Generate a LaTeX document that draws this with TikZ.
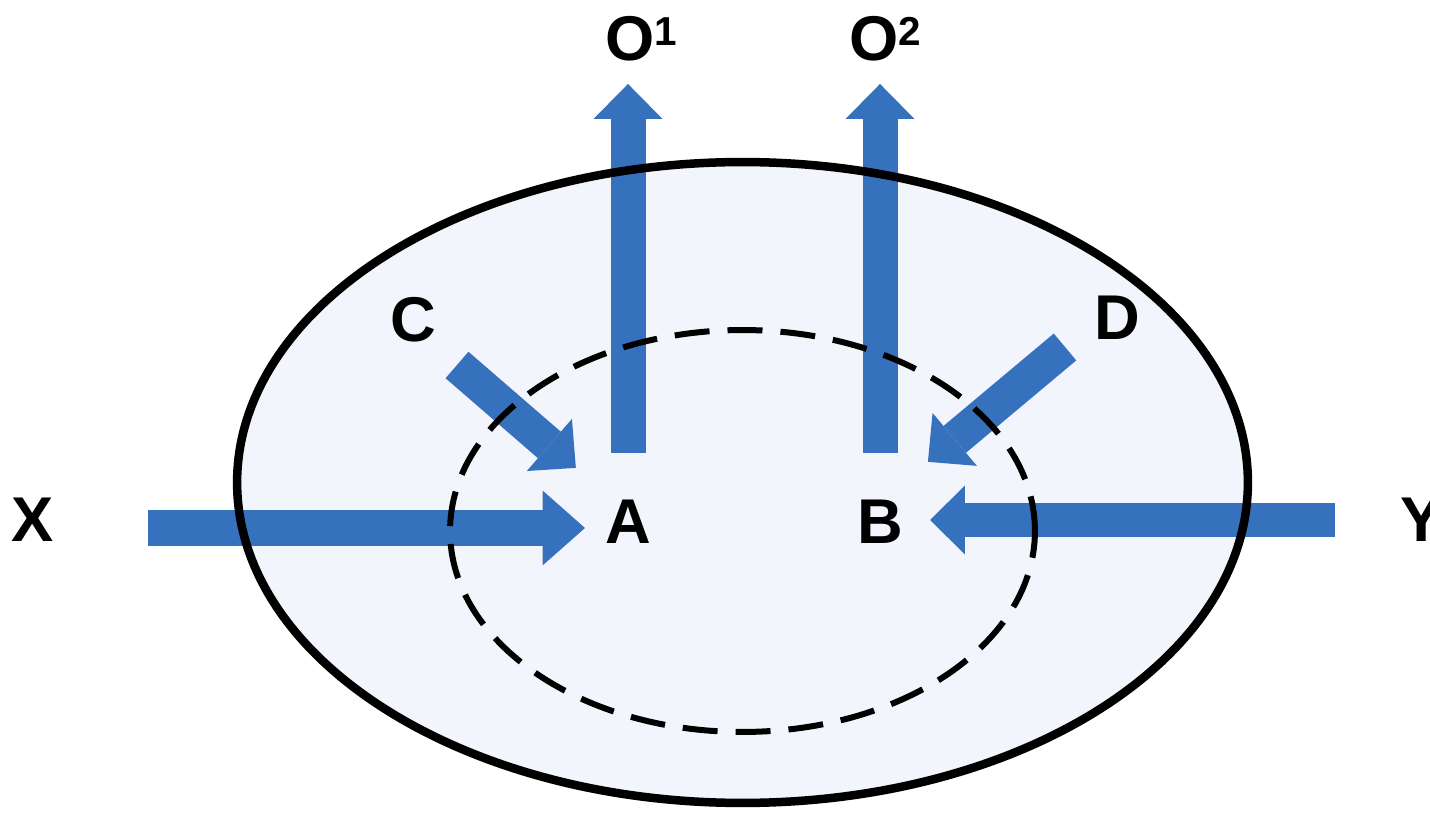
\documentclass[tikz,border=0pt]{standalone}
\usepackage{fontspec}
\setmainfont{Liberation Sans}
\usetikzlibrary{arrows.meta}
\definecolor{arrowblue}{HTML}{3671BD}
\definecolor{dotfill}{HTML}{F2F5FB}
\tikzset{
  lbl/.style={inner sep=0pt, font=\fontsize{36}{36}\selectfont\bfseries},
  blockarrow/.style={line width=0.7cm, draw=arrowblue, line cap=butt,
    -{Triangle[width=1.38cm,length=0.7cm,line width=0pt]}},
  bigarrow/.style={line width=0.74cm, draw=arrowblue, line cap=butt,
    -{Triangle[width=1.5cm,length=0.85cm,line width=0pt]}},
  outerring/.style={draw=black, line width=0.17cm},
  innerring/.style={draw=black, line width=0.12cm, dash pattern=on 0.7cm off 0.36cm}
}
\newcommand{\supnum}[1]{{\fontsize{23}{23}\selectfont\raisebox{9pt}{#1}}}
\begin{document}
\begin{tikzpicture}[x=0.02cm, y=-0.02cm]
\useasboundingbox (0,0) rectangle (1430,813);
% filled region
\fill[dotfill] (742.5,482.5) ellipse [x radius=10.11cm, y radius=6.41cm];

% labels
\node[lbl] (A) at (628,522) {A};
\node[lbl] (B) at (880,522) {B};
\node[lbl] (C) at (413,320) {C};
\node[lbl] (D) at (1117,318) {D};
\node[lbl] (X) at (33,520) {X};
\node[lbl] (Y) at (1422,520) {Y};
\node[lbl, anchor=base west] (O1) at (605,61) {O\supnum{1}};
\node[lbl, anchor=base west] (O2) at (849,61) {O\supnum{2}};

% free ends of the arrows
\coordinate (xs) at (148,528);
\coordinate (ys) at (1335,520);
\coordinate (cs) at (457,365);
\coordinate (ds) at (1065,347);
\coordinate (o1s) at (628,453);
\coordinate (o2s) at (880,453);

% arrows
\draw[bigarrow, shorten >=0.86cm] (xs) -- (xs -| A.center);
\draw[blockarrow, shorten >=1cm] (ys) -- (ys -| B.center);
\draw[blockarrow, shorten >=1.38cm] (cs) -- ([yshift=0.18cm]A.center);
\draw[blockarrow, shorten >=1.25cm] (ds) -- ([yshift=0.4cm]B.center);
\draw[blockarrow, shorten >=0.44cm] (o1s) -- (o1s |- O1.south);
\draw[blockarrow, shorten >=0.44cm] (o2s) -- (o2s |- O2.south);

% outlines
\draw[outerring] (742.5,482.5) ellipse [x radius=10.11cm, y radius=6.41cm];
\draw[innerring] (742.5,531) ellipse [x radius=5.85cm, y radius=4.02cm];
\end{tikzpicture}
\end{document}
